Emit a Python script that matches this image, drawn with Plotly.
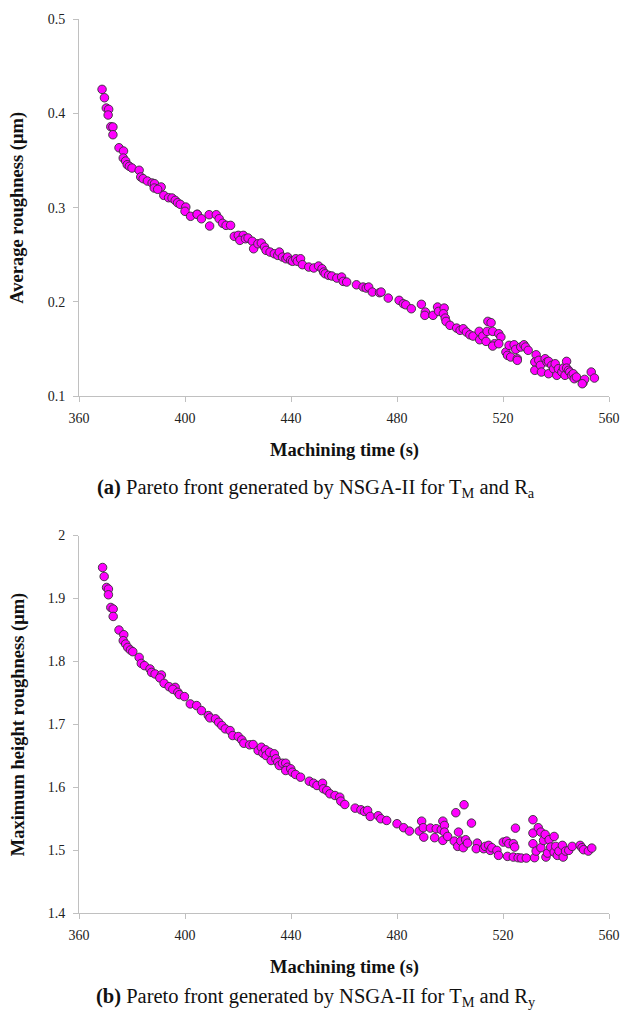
import plotly.graph_objects as go

# ---------------- data (a): machining time vs average roughness ----------------
ra_time = [368.7, 369.6, 370.3, 371.2, 371.0, 372.0, 372.8, 372.8, 375.1, 376.8, 376.7, 377.6,
           378.2, 379.0, 380.0, 382.7, 383.3, 384.2, 385.8, 387.6, 388.5, 388.4, 391.0, 389.7,
           392.0, 393.8, 395.1, 396.3, 397.2, 398.2, 400.3, 400.0, 402.1, 404.6, 404.6, 406.2,
           409.1, 409.3, 411.8, 412.9, 414.2, 415.5, 417.2, 418.6, 420.1, 422.0, 420.7, 422.8,
           423.8, 425.4, 425.9, 427.5, 428.8, 430.0, 430.6, 432.1, 433.7, 435.0, 435.6, 436.8,
           438.1, 438.7, 439.9, 440.6, 441.8, 442.4, 443.6, 444.3, 446.7, 448.6, 450.4, 451.7,
           452.3, 452.9, 454.2, 455.4, 457.3, 459.1, 459.7, 461.0, 464.7, 467.2, 468.4, 469.3,
           470.7, 473.4, 474.0, 476.7,
           480.8, 482.4, 483.3, 485.4, 489.2, 490.7, 490.5, 493.6, 495.3, 495.7, 497.8, 497.5,
           498.2, 498.5, 500.0, 502.5, 503.8, 505.0, 506.2, 507.5, 508.7, 511.0, 511.2, 512.4,
           513.6, 514.3, 515.5, 514.0, 516.1, 516.8, 516.1, 518.4, 519.2, 518.4, 521.1, 522.3,
           521.7, 522.9, 524.2, 524.8, 525.4, 525.4, 526.7, 527.9, 528.5, 529.5, 532.5, 532.0,
           532.0, 533.5, 534.1, 534.5, 535.9, 536.6, 537.2, 537.2, 538.4, 539.1, 539.7, 540.3,
           540.9, 542.2, 542.8, 543.4, 544.0, 544.0, 544.7, 545.2, 545.9, 546.5, 546.9, 547.7,
           550.2, 550.8, 553.3, 554.5, 549.9]
ra_value = [0.4254, 0.4165, 0.4056, 0.4042, 0.3982, 0.3858, 0.3855, 0.3773, 0.3635, 0.3600, 0.3526, 0.3494,
            0.3455, 0.3438, 0.3420, 0.3396, 0.3325, 0.3307, 0.3282, 0.3261, 0.3254, 0.3208, 0.3219, 0.3194,
            0.3130, 0.3105, 0.3102, 0.3077, 0.3052, 0.3035, 0.3006, 0.2961, 0.2908, 0.2929, 0.2929, 0.2882,
            0.2925, 0.2805, 0.2925, 0.2882, 0.2834, 0.2812, 0.2812, 0.2696, 0.2706, 0.2706, 0.2653, 0.2670,
            0.2678, 0.2643, 0.2564, 0.2617, 0.2625, 0.2582, 0.2547, 0.2529, 0.2511, 0.2494, 0.2529, 0.2476,
            0.2458, 0.2476, 0.2441, 0.2431, 0.2458, 0.2431, 0.2458, 0.2395, 0.2370, 0.2360, 0.2381, 0.2352,
            0.2317, 0.2299, 0.2282, 0.2275, 0.2253, 0.2264, 0.2218, 0.2211, 0.2182, 0.2158, 0.2147, 0.2158,
            0.2105, 0.2098, 0.2105, 0.2041,
            0.2017, 0.1981, 0.1970, 0.1928, 0.1975, 0.1893, 0.1858, 0.1858, 0.1946, 0.1900, 0.1935, 0.1875,
            0.1829, 0.1794, 0.1752, 0.1723, 0.1699, 0.1716, 0.1681, 0.1652, 0.1638, 0.1688, 0.1599, 0.1638,
            0.1582, 0.1794, 0.1780, 0.1688, 0.1688, 0.1557, 0.1532, 0.1663, 0.1628, 0.1557, 0.1469, 0.1540,
            0.1434, 0.1416, 0.1546, 0.1497, 0.1398, 0.1381, 0.1522, 0.1546, 0.1522, 0.1487, 0.1440, 0.1363,
            0.1275, 0.1381, 0.1328, 0.1257, 0.1398, 0.1363, 0.1370, 0.1239, 0.1328, 0.1292, 0.1345, 0.1222,
            0.1292, 0.1257, 0.1299, 0.1222, 0.1370, 0.1299, 0.1275, 0.1257, 0.1222, 0.1239, 0.1186, 0.1204,
            0.1143, 0.1179, 0.1257, 0.1193, 0.1133]

# ---------------- data (b): machining time vs maximum height roughness ----------------
ry_time = [368.9, 369.5, 370.4, 371.1, 371.1, 372.0, 372.9, 372.9, 375.1, 376.9, 376.7, 377.6,
           378.4, 379.4, 380.3, 382.7, 383.5, 384.7, 386.8, 387.4, 388.7, 391.1, 390.5, 392.1,
           394.0, 396.3, 395.4, 397.3, 397.9, 399.8, 402.0, 404.4, 406.2, 408.8, 409.4, 411.5,
           412.7, 413.9, 415.2, 417.0, 418.0,
           420.1, 421.4, 422.2, 424.4, 425.7, 427.6, 428.8, 429.4, 430.4, 430.6, 431.9, 432.5,
           433.7, 434.3, 435.0, 435.6, 436.8, 438.0, 438.7, 438.0, 439.9, 440.5, 441.7, 443.6,
           446.9, 448.5, 449.8, 451.9, 452.2, 453.5, 454.7, 456.6, 458.4, 458.8, 460.3, 464.2,
           466.4, 467.7, 468.9, 469.9, 472.9, 473.9, 476.1, 480.0, 482.5, 484.7, 488.4, 489.3,
           490.1, 489.9, 492.6,
           494.2, 494.8, 496.7, 497.3, 497.9, 497.9, 497.3, 499.1, 502.2, 503.2, 501.6, 502.9,
           504.1, 505.3, 505.0, 505.9, 506.6, 508.1, 510.3, 509.9, 512.7, 513.3, 514.6, 515.2,
           515.8, 517.7, 518.3, 520.1, 521.4, 521.7, 522.2, 523.9, 524.4, 523.9, 524.7, 525.7,
           526.9, 528.8, 531.3, 531.3, 531.3, 531.9, 532.5, 533.3, 534.3, 534.3, 535.3, 535.9,
           536.2, 536.8, 537.4, 538.0, 539.3, 539.3, 539.9, 540.5, 541.1, 542.4, 542.7, 543.6,
           544.8, 546.1, 549.1, 549.8, 550.4, 552.2, 553.5]
ry_value = [1.9492, 1.9349, 1.9175, 1.9149, 1.9059, 1.8857, 1.8832, 1.8714, 1.8498, 1.8424, 1.8329, 1.8276,
            1.8222, 1.8181, 1.8154, 1.8063, 1.7968, 1.7932, 1.7879, 1.7825, 1.7800, 1.7784, 1.7737, 1.7651,
            1.7598, 1.7587, 1.7556, 1.7508, 1.7471, 1.7440, 1.7324, 1.7297, 1.7217, 1.7138, 1.7102, 1.7086,
            1.7032, 1.6980, 1.6927, 1.6900, 1.6821,
            1.6805, 1.6752, 1.6698, 1.6673, 1.6678, 1.6583, 1.6635, 1.6540, 1.6594, 1.6503, 1.6556, 1.6424,
            1.6530, 1.6451, 1.6397, 1.6344, 1.6381, 1.6381, 1.6317, 1.6265, 1.6292, 1.6238, 1.6202, 1.6159,
            1.6095, 1.6063, 1.6027, 1.6063, 1.5975, 1.5948, 1.5895, 1.5868, 1.5841, 1.5778, 1.5725, 1.5667,
            1.5641, 1.5614, 1.5630, 1.5535, 1.5546, 1.5498, 1.5471, 1.5419, 1.5356, 1.5302, 1.5302, 1.5460,
            1.5206, 1.5356, 1.5350,
            1.5197, 1.5340, 1.5324, 1.5460, 1.5392, 1.5286, 1.5154, 1.5217, 1.5594, 1.5286, 1.5143, 1.5059,
            1.5143, 1.5721, 1.5038, 1.5165, 1.5111, 1.5429, 1.5111, 1.5022, 1.5022, 1.5059, 1.5075, 1.4995,
            1.5038, 1.4995, 1.4916, 1.5127, 1.5143, 1.4900, 1.5102, 1.5102, 1.5048, 1.4889, 1.5349, 1.4879,
            1.4873, 1.4873, 1.5483, 1.5270, 1.5102, 1.4879, 1.4984, 1.5356, 1.5038, 1.5286, 1.5154, 1.5249,
            1.4889, 1.4952, 1.5165, 1.5048, 1.5217, 1.4968, 1.5059, 1.4916, 1.4984, 1.5075, 1.4889, 1.4984,
            1.4995, 1.5059, 1.5075, 1.5038, 1.5006, 1.4984, 1.5032]

# ---------------- axis ticks / labels ----------------
x_ticks = [360, 400, 440, 480, 520, 560]
ra_ticks = [0.1, 0.2, 0.3, 0.4, 0.5]
ra_ticktext = ["0.1", "0.2", "0.3", "0.4", "0.5"]
ry_ticks = [1.4, 1.5, 1.6, 1.7, 1.8, 1.9, 2.0]
ry_ticktext = ["1.4", "1.5", "1.6", "1.7", "1.8", "1.9", "2"]

x_title = "Machining time (s)"
ra_title = "Average roughness (μm)"
ry_title = "Maximum height roughness (μm)"
cap_a = "<b>(a)</b> Pareto front generated by NSGA-II for T<sub>M</sub> and R<sub>a</sub>"
cap_b = "<b>(b)</b> Pareto front generated by NSGA-II for T<sub>M</sub> and R<sub>y</sub>"

FONT = "Liberation Serif, Times New Roman, serif"
marker = dict(size=8.5, color="#FF00FF", line=dict(width=0.9, color="#333333"))

fig = go.Figure()
fig.add_trace(go.Scatter(x=ra_time, y=ra_value, mode="markers", marker=marker,
                         xaxis="x", yaxis="y", showlegend=False))
fig.add_trace(go.Scatter(x=ry_time, y=ry_value, mode="markers", marker=marker,
                         xaxis="x2", yaxis="y2", showlegend=False))

axis_common = dict(showgrid=False, zeroline=False, showline=True, linecolor="#c0c0c0",
                   linewidth=1, ticks="outside", ticklen=5, tickcolor="#c0c0c0",
                   tickfont=dict(family=FONT, size=14, color="#222"))

top_dom = [0.578, 1.0]
bot_dom = [0.0, 0.4222]

fig.update_layout(
    width=632, height=1013,
    margin=dict(l=79, r=13, t=17, b=100),
    paper_bgcolor="white", plot_bgcolor="white",
    font=dict(family=FONT, color="#111"),
    xaxis=dict(domain=[0, 1], anchor="y", range=[360, 560], tickvals=x_ticks,
               ticklabelstandoff=4, **axis_common),
    yaxis=dict(domain=top_dom, anchor="x", range=[0.1, 0.5], tickvals=ra_ticks,
               ticktext=ra_ticktext, ticklabelstandoff=5, **axis_common),
    xaxis2=dict(domain=[0, 1], anchor="y2", range=[360, 560], tickvals=x_ticks,
                ticklabelstandoff=4, **axis_common),
    yaxis2=dict(domain=bot_dom, anchor="x2", range=[1.4, 2.0], tickvals=ry_ticks,
                ticktext=ry_ticktext, ticklabelstandoff=5, **axis_common),
)

title_font = dict(family=FONT, size=18.5, color="#111")
cap_font = dict(family=FONT, size=20.5, color="#111")
ann = []
# x-axis titles
ann.append(dict(text="<b>" + x_title + "</b>", xref="paper", yref="paper", x=0.5, y=top_dom[0],
                yshift=-54, showarrow=False, font=title_font, yanchor="middle"))
ann.append(dict(text="<b>" + x_title + "</b>", xref="paper", yref="paper", x=0.5, y=bot_dom[0],
                yshift=-54, showarrow=False, font=title_font, yanchor="middle"))
# y-axis titles
ann.append(dict(text="<b>" + ra_title + "</b>", xref="paper", yref="paper", x=0,
                y=(top_dom[0] + top_dom[1]) / 2, xshift=-61, textangle=-90,
                showarrow=False, font=title_font, xanchor="center", yanchor="middle"))
ann.append(dict(text="<b>" + ry_title + "</b>", xref="paper", yref="paper", x=0,
                y=(bot_dom[0] + bot_dom[1]) / 2, xshift=-61, textangle=-90,
                showarrow=False, font=title_font, xanchor="center", yanchor="middle"))
# captions
ann.append(dict(text=cap_a, xref="paper", yref="paper", x=0.5, y=top_dom[0], xshift=-28,
                yshift=-92, showarrow=False, font=cap_font, yanchor="middle"))
ann.append(dict(text=cap_b, xref="paper", yref="paper", x=0.5, y=bot_dom[0], xshift=-28,
                yshift=-84, showarrow=False, font=cap_font, yanchor="middle"))
fig.update_layout(annotations=ann)

# remove the default 8px page margin so the figure sits exactly in the 632x1013 window
fig.write_html("out.html", config={"displayModeBar": False},
               post_script="document.body.style.margin='0';")
